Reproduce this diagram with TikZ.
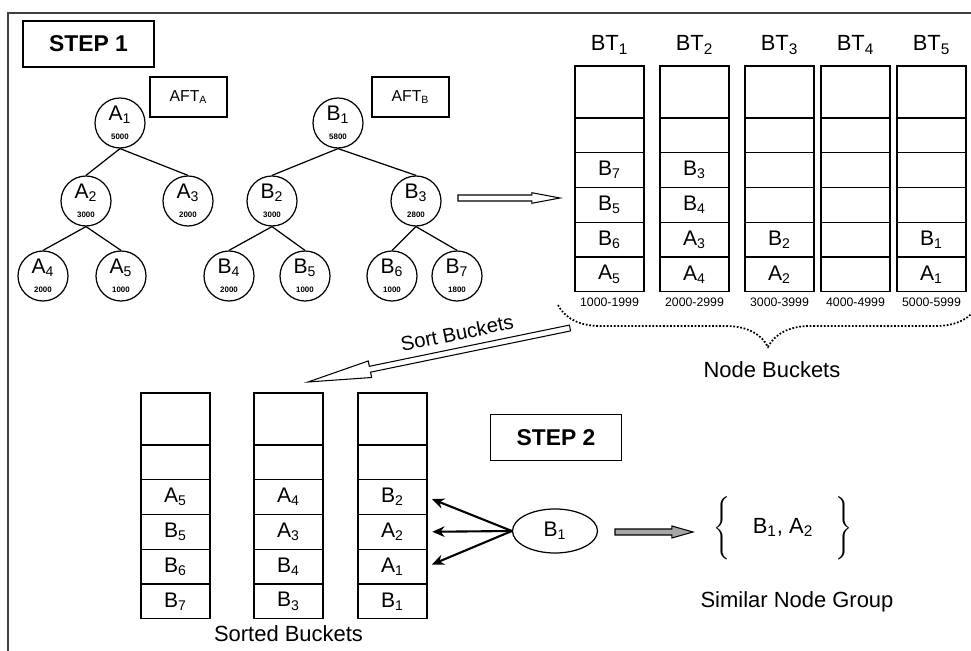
\documentclass[tikz,border=0pt]{standalone}
\usepackage{fontspec}
\setmainfont{Liberation Sans}
\usepackage{amsmath}
\usetikzlibrary{arrows.meta, positioning, calc, shapes.geometric, decorations.pathreplacing}
\newcommand{\ndl}[2]{#1\textsubscript{#2}}
\newcommand{\tinynum}{\fontsize{4.5}{5}\selectfont\bfseries}
\newcommand{\bucket}[7]{%
  \node[topcell, anchor=north west] (#1-1) at (#2,#3) {};
  \node[cell, below=0pt of #1-1] (#1-2) {};
  \node[cell, below=0pt of #1-2] (#1-3) {#4};
  \node[cell, below=0pt of #1-3] (#1-4) {#5};
  \node[cell, below=0pt of #1-4] (#1-5) {#6};
  \node[cell, below=0pt of #1-5] (#1-6) {#7};
}
% outlined block arrow: [fill]{from}{to}{head length}{head half width}
\newcommand{\hollowarrow}[5][white]{%
  \coordinate (#3-back) at ($(#3)!#4!(#2)$);
  \draw[hollow, fill=#1]
    ($(#2)!1.7pt!90:(#3)$) -- ($(#3-back)!1.7pt!-90:(#2)$) -- ($(#3-back)!#5!-90:(#2)$)
    -- (#3) -- ($(#3-back)!#5!90:(#2)$) -- ($(#3-back)!1.7pt!90:(#2)$)
    -- ($(#2)!1.7pt!-90:(#3)$) -- cycle;
}
\tikzset{
    treenode/.style={circle, draw, minimum size=1cm, inner sep=0pt, align=center},
    branch/.style={line width=0.7pt},
    stepbox/.style={draw, font=\fontsize{13}{15}\selectfont\bfseries, minimum width=2.62cm, minimum height=0.92cm},
    aftbox/.style={draw, font=\fontsize{9}{11}\selectfont, minimum width=1.54cm, minimum height=0.8cm},
    topcell/.style={draw, minimum width=1.38cm, minimum height=1.04cm, inner sep=0pt, outer sep=0pt},
    cell/.style={topcell, minimum height=0.695cm},
    rangelbl/.style={font=\fontsize{7}{8}\selectfont, inner sep=1pt},
    caption/.style={font=\fontsize{12.5}{14}\selectfont},
    hollow/.style={line width=0.6pt, line join=miter},
    pointer/.style={line width=1.2pt, -{Stealth[length=7pt, width=6pt]}, shorten >=3pt},
    dotbrace/.style={decorate, decoration={brace, mirror, amplitude=0.84cm}, line width=1pt, dash pattern=on 1pt off 1pt}
}

\begin{document}
\begin{tikzpicture}[x=0.02cm, y=-0.02cm, line width=0.7pt, font=\fontsize{12}{14}\selectfont]
    \useasboundingbox (0,0) rectangle (971,651);
    \draw[line width=1pt, black!75] (8,651) |- (971,13);

    % step 1: the two trees
    \node[stepbox] (step1) at (88.5,44) {STEP 1};
    \node[aftbox] (aftA) at (188.5,97) {AFT\textsubscript{A}};
    \node[aftbox] (aftB) at (410.5,97) {AFT\textsubscript{B}};

    \node[treenode] (A1) at (120,123) {\ndl{A}{1}\\[-3pt]\tinynum 5000};
    \node[treenode] (A2) at (86,201) {\ndl{A}{2}\\[-3pt]\tinynum 3000};
    \node[treenode] (A3) at (188,201) {\ndl{A}{3}\\[-3pt]\tinynum 2000};
    \node[treenode] (A4) at (43,276) {\ndl{A}{4}\\[-3pt]\tinynum 2000};
    \node[treenode] (A5) at (121,276) {\ndl{A}{5}\\[-3pt]\tinynum 1000};
    \node[treenode] (B1) at (338,123) {\ndl{B}{1}\\[-3pt]\tinynum 5800};
    \node[treenode] (B2) at (272,201) {\ndl{B}{2}\\[-3pt]\tinynum 3000};
    \node[treenode] (B3) at (416,201) {\ndl{B}{3}\\[-3pt]\tinynum 2800};
    \node[treenode] (B4) at (229,276) {\ndl{B}{4}\\[-3pt]\tinynum 2000};
    \node[treenode] (B5) at (305,276) {\ndl{B}{5}\\[-3pt]\tinynum 1000};
    \node[treenode] (B6) at (392,276) {\ndl{B}{6}\\[-3pt]\tinynum 1000};
    \node[treenode] (B7) at (457,276) {\ndl{B}{7}\\[-3pt]\tinynum 1800};
    \foreach \p/\c in {A1/A2, A1/A3, A2/A4, A2/A5, B1/B2, B1/B3, B2/B4, B2/B5, B3/B6, B3/B7}
        \draw[branch] (\p.south) -- (\c.north);

    % node buckets
    \bucket{bt1}{575}{66}{\ndl{B}{7}}{\ndl{B}{5}}{\ndl{B}{6}}{\ndl{A}{5}}
    \bucket{bt2}{660}{66}{\ndl{B}{3}}{\ndl{B}{4}}{\ndl{A}{3}}{\ndl{A}{4}}
    \bucket{bt3}{745}{66}{}{}{\ndl{B}{2}}{\ndl{A}{2}}
    \bucket{bt4}{821}{66}{}{}{}{}
    \bucket{bt5}{897}{66}{}{}{\ndl{B}{1}}{\ndl{A}{1}}
    \foreach \b/\r in {1/1000-1999, 2/2000-2999, 3/3000-3999, 4/4000-4999, 5/5000-5999} {
        \node[caption, above=3pt of bt\b-1] (lbl\b) {BT\textsubscript{\b}};
        \node[rangelbl, below=2pt of bt\b-6] (rng\b) {\r};
    }
    \coordinate (treeout) at (458,198);
    \coordinate (bktin) at (560,198);
    \hollowarrow{treeout}{bktin}{16pt}{3pt}

    \draw[dotbrace] (558,305) -- (978,305);
    \node[caption] (nbk) at (772,370) {Node Buckets};

    % sort step
    \coordinate (sortfrom) at (570,328);
    \coordinate (sortto) at (308,382);
    \hollowarrow{sortfrom}{sortto}{36pt}{4.8pt}
    \node[caption, font=\fontsize{11.5}{13}\selectfont, rotate=11.6] (sortlbl) at (457,333) {Sort Buckets};

    % step 2: sorted buckets
    \bucket{sb1}{141}{393}{\ndl{A}{5}}{\ndl{B}{5}}{\ndl{B}{6}}{\ndl{B}{7}}
    \bucket{sb2}{254}{393}{\ndl{A}{4}}{\ndl{A}{3}}{\ndl{B}{4}}{\ndl{B}{3}}
    \bucket{sb3}{358}{393}{\ndl{B}{2}}{\ndl{A}{2}}{\ndl{A}{1}}{\ndl{B}{1}}
    \node[caption, below=0pt of sb2-6] (sorted) {Sorted Buckets};

    \node[stepbox] (step2) at (556,437.5) {STEP 2};
    \node[ellipse, draw, minimum width=1.7cm, minimum height=0.88cm] (query) at (555,531) {\ndl{B}{1}};
    \foreach \r in {3,4,5}
        \draw[pointer] (query.west) -- (sb3-\r.east);

    \node[caption] (grp) at (783,528) {$\Bigg\{$\quad\ndl{B}{1}, \ndl{A}{2}\quad$\Bigg\}$};
    \coordinate (grpfrom) at (615,532);
    \coordinate (grpto) at (693,532);
    \hollowarrow[black!35]{grpfrom}{grpto}{12pt}{3.4pt}
    \node[caption] (simgrp) at (797,602) {Similar Node Group};
\end{tikzpicture}
\end{document}
